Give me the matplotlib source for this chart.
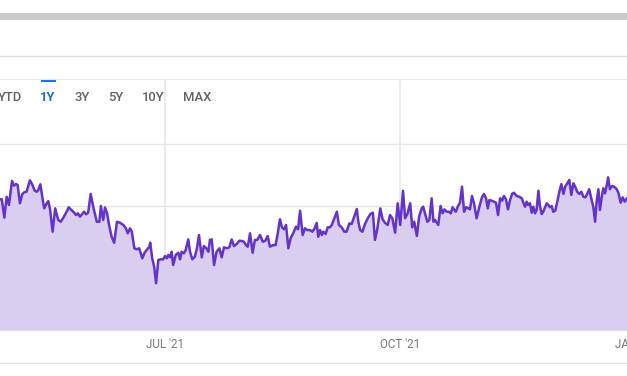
import numpy as np
import matplotlib
matplotlib.use('Agg')
from matplotlib import pyplot as plt
import matplotlib.dates as mdates
from matplotlib.transforms import blended_transform_factory
from matplotlib.patches import Rectangle
from matplotlib.lines import Line2D

plt.rcParams['font.family'] = ['Roboto', 'DejaVu Sans']

# days relative to 2021-07-01 and closing value
start_date = '2021-07-01'
days = [-64.6, -63.9, -62.9, -62.0, -61.1, -59.9, -59.1, -58.3, -57.7, -56.8,
        -55.9, -55.2, -54.2, -52.9, -52.0, -51.0, -50.2, -49.6, -48.8, -47.9,
        -47.3, -46.3, -45.7, -45.0, -44.0, -43.0, -41.8, -40.8, -39.8, -38.5,
        -37.7, -36.7, -35.9, -34.8, -34.1, -33.3, -32.5, -31.7, -30.9, -30.1,
        -29.1, -28.1, -26.7, -25.7, -25.1, -24.2, -23.5, -22.7, -21.9, -20.9,
        -19.9, -18.8, -17.6, -16.3, -15.3, -14.6, -13.7, -13.0, -12.0, -11.1,
        -10.1, -8.9, -8.1, -7.2, -6.1, -5.8, -5.0, -4.2, -3.5, -2.6,
        -1.6, -0.7, 0.0, 0.7, 1.3, 2.0, 2.6, 3.2, 4.2, 5.2,
        5.9, 6.5, 7.4, 8.1, 9.1, 9.8, 10.7, 11.7, 12.5, 13.3,
        14.4, 15.2, 16.2, 17.0, 17.6, 18.3, 19.2, 20.2, 21.3, 22.2,
        23.1, 24.2, 25.2, 26.1, 27.0, 28.1, 29.1, 30.0, 30.9, 31.7,
        32.4, 33.3, 34.3, 35.2, 36.1, 37.2, 38.3, 39.3, 40.2, 41.1,
        42.4, 43.3, 44.2, 45.0, 45.8, 46.6, 47.4, 48.3, 49.2, 50.2,
        51.3, 52.1, 52.9, 53.9, 54.8, 55.7, 56.8, 57.7, 58.6, 59.4,
        60.0, 60.7, 61.4, 62.0, 62.9, 63.7, 64.6, 65.3, 66.3, 67.3,
        68.1, 69.2, 70.2, 71.1, 72.2, 73.1, 74.1, 75.1, 75.7, 76.4,
        77.3, 78.3, 79.4, 80.4, 81.4, 82.2, 83.1, 84.3, 85.2, 86.1,
        87.2, 88.1, 89.0, 90.1, 91.1, 92.1, 93.2, 94.0, 94.9, 96.0,
        96.8, 97.6, 98.6, 99.5, 100.5, 101.1, 101.8, 102.7, 103.5, 104.4,
        105.1, 105.7, 106.4, 107.0, 107.9, 108.7, 109.4, 110.3, 111.1, 111.9,
        112.6, 113.3, 113.9, 114.6, 115.5, 116.3, 117.1, 117.9, 118.8, 119.4,
        120.2, 121.0, 122.0, 123.1, 124.1, 124.9, 125.7, 126.4, 127.0, 127.9,
        128.8, 129.6, 130.4, 131.2, 132.0, 132.7, 133.5, 134.3, 135.1, 135.9,
        136.6, 137.7, 138.7, 139.7, 140.3, 141.0, 141.6, 142.2, 142.9, 143.6,
        144.2, 144.9, 145.5, 146.2, 146.8, 147.5, 148.1, 148.8, 149.5, 150.1,
        150.7, 151.4, 152.0, 152.8, 153.6, 154.4, 155.2, 156.0, 156.7, 157.5,
        158.3, 159.1, 159.9, 160.6, 161.4, 162.2, 163.0, 163.8, 164.6, 165.3,
        166.1, 166.9, 167.7, 168.4, 169.0, 169.7, 170.3, 171.0, 171.6, 172.3,
        172.9, 173.5, 174.2, 175.0, 175.8, 176.9, 177.6, 178.4, 179.2, 180.0,
        180.9]
price = [50.54, 50.54, 49.06, 50.75, 50.08, 52.02, 51.64, 51.77, 51.69, 50.22,
         50.94, 51.10, 51.15, 52.07, 51.75, 51.23, 51.15, 51.29, 51.75, 50.54,
         49.81, 50.22, 50.40, 49.73, 47.93, 49.81, 48.87, 48.73, 49.06, 49.54,
         49.90, 49.68, 49.54, 49.27, 49.41, 49.14, 49.33, 49.54, 49.33, 49.46,
         50.97, 49.94, 48.73, 48.73, 50.00, 48.87, 49.88, 49.44, 48.47, 47.52,
         47.04, 48.73, 48.65, 48.47, 48.20, 47.80, 48.20, 47.93, 46.59, 46.51,
         46.59, 45.78, 46.19, 46.45, 46.72, 47.04, 45.78, 45.06, 43.77, 45.65,
         45.70, 45.70, 45.97, 45.78, 46.05, 45.86, 46.31, 45.24, 46.05, 46.23,
         45.70, 46.31, 46.19, 46.45, 47.31, 46.31, 45.70, 45.91, 46.59, 47.66,
         45.86, 46.77, 46.59, 46.31, 47.26, 47.31, 45.24, 46.31, 46.59, 45.86,
         46.67, 46.59, 46.67, 47.31, 46.77, 46.94, 47.20, 47.18, 47.12, 46.85,
         46.72, 47.80, 46.23, 47.26, 47.26, 47.66, 47.12, 47.20, 47.58, 46.72,
         46.85, 46.85, 47.85, 48.93, 48.28, 48.12, 48.47, 46.59, 47.40, 47.80,
         48.33, 48.12, 49.62, 47.66, 48.20, 48.06, 48.06, 47.93, 48.20, 48.63,
         47.52, 48.06, 47.66, 47.93, 47.74, 48.28, 48.28, 48.47, 49.01, 49.54,
         48.47, 48.28, 47.93, 47.93, 48.60, 48.55, 49.14, 49.76, 48.73, 48.06,
         47.93, 48.55, 49.01, 49.35, 49.46, 47.26, 48.12, 49.81, 48.93, 48.65,
         48.47, 49.27, 49.01, 47.85, 50.22, 48.47, 51.23, 49.01, 49.35, 50.22,
         48.28, 48.73, 47.58, 49.14, 49.81, 49.94, 49.41, 48.73, 48.87, 50.62,
         48.73, 48.87, 48.65, 48.47, 50.00, 49.41, 49.73, 49.54, 49.54, 49.41,
         49.90, 49.68, 49.54, 49.94, 50.27, 51.56, 49.54, 49.90, 49.81, 49.73,
         50.81, 50.22, 49.01, 49.94, 50.70, 50.97, 50.62, 49.81, 50.48, 50.43,
         50.35, 50.27, 49.27, 50.62, 50.43, 50.81, 50.54, 49.73, 50.48, 50.97,
         51.07, 50.81, 50.75, 50.62, 50.27, 49.94, 50.35, 50.08, 50.22, 49.46,
         49.94, 49.41, 49.68, 51.23, 50.00, 49.35, 49.54, 49.90, 50.22, 50.08,
         49.90, 50.00, 49.54, 49.62, 50.35, 51.15, 51.77, 50.97, 51.56, 51.83,
         52.10, 50.89, 51.83, 51.56, 51.15, 50.97, 51.15, 50.75, 50.70, 50.97,
         51.35, 50.62, 49.94, 48.73, 50.35, 51.35, 49.68, 50.70, 51.43, 51.02,
         51.61, 52.31, 51.35, 51.61, 51.56, 51.35, 51.02, 50.27, 50.70, 50.35,
         50.62]

tick_dates = ['2021-07-01', '2021-10-01', '2022-01-01']
tick_labels = ["JUL '21", "OCT '21", "JAN '22"]
y_grid = [45, 50, 55]
range_buttons = ['YTD', '1Y', '3Y', '5Y', '10Y', 'MAX']
selected = '1Y'

W, H = 627, 376
fig = plt.figure(figsize=(W / 100, H / 100), dpi=100)
fig.patch.set_facecolor('white')

# page chrome above the chart
fig.patches.append(Rectangle((0, 1 - 19.5 / H), 1, 6.5 / H, transform=fig.transFigure,
                             color='#cbcbcb', lw=0))
fig.lines.append(Line2D([0, 1], [1 - 55.5 / H] * 2, transform=fig.transFigure,
                        color='#dcdcdc', lw=1))
fig.lines.append(Line2D([0, 1], [1 - 362.5 / H] * 2, transform=fig.transFigure,
                        color='#dcdcdc', lw=1))

ax = fig.add_axes([0, 46 / H, 1, 251 / H])
base = mdates.datestr2num(start_date)
x = base + np.array(days)
y = np.array(price)

ax.fill_between(x, y, 40, color='#d9cdf0', lw=0, zorder=1)
ax.plot(x, y, color='#6433c8', lw=1.8, solid_joinstyle='round', zorder=3)

for v in y_grid:
    ax.axhline(v, color='#e6e6e6', lw=1, zorder=0.5)
tick_x = [mdates.datestr2num(d) for d in tick_dates]
for t in tick_x:
    ax.axvline(t, color='#e6e6e6', lw=1.2, zorder=0.5)

ax.set_xlim(base + (0 - 165) / 2.554, base + (W - 165) / 2.554)
ax.set_ylim(40, 40 + 251 / 12.4)
ax.set_xticks([])
ax.set_yticks([])
for side in ['left', 'right']:
    ax.spines[side].set_visible(False)
ax.spines['top'].set_color('#e6e6e6')
ax.spines['bottom'].set_color('#dedede')

# JAN '22 sits past the right edge and is cut off, as in the source
trans = blended_transform_factory(ax.transData, fig.transFigure)
for t, lab in zip(tick_x, tick_labels):
    ax.text(t, 1 - 344 / H, lab, transform=trans, ha='center', va='center',
            fontsize=8.4, color='#777777', clip_on=False)

# range selector
btn_x = [10, 48, 82, 116, 153, 197]
for bx, lab in zip(btn_x, range_buttons):
    is_sel = lab == selected
    fig.text(bx / W, 1 - 97.5 / H, lab, ha='center', va='center', fontsize=9.4,
             color='#1a6fd0' if is_sel else '#5f6368',
             fontweight='bold' if is_sel else 'medium')
fig.patches.append(Rectangle((40.7 / W, 1 - 82 / H), 15.3 / W, 2.2 / H,
                             transform=fig.transFigure, color='#1a73e8', lw=0))

fig.savefig('out.png', dpi=100)
